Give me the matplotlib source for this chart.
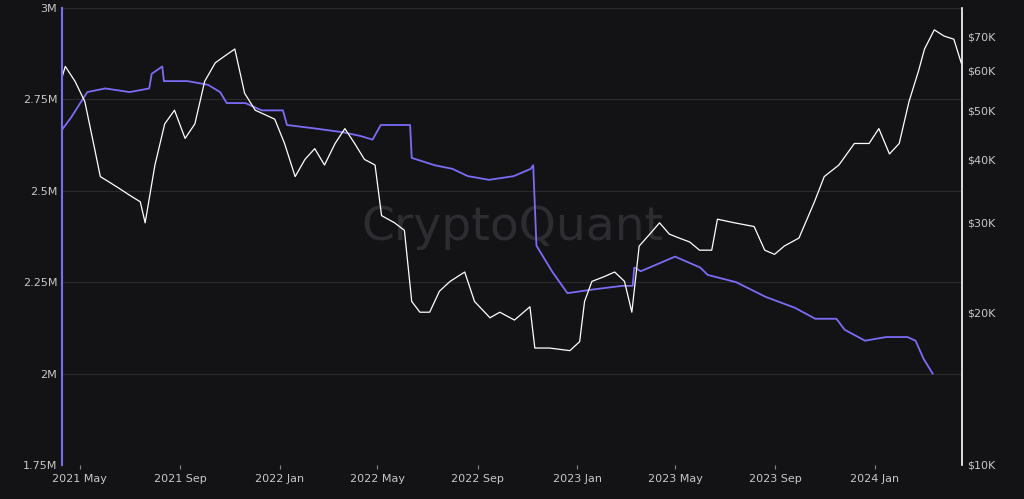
import matplotlib
matplotlib.use("Agg")
import matplotlib.pyplot as plt
import matplotlib.dates as mdates
import pandas as pd
import numpy as np

btc_start = "2021-04-09"
btc_day = [0,4,16,28,40,47,59,71,83,96,102,114,126,138,151,163,175,188,200,212,224,237,249,261,273,286,298,310,322,335,347,359,371,384,392,408,420,429,439,451,463,476,494,506,525,537,555,574,580,598,623,635,641,650,665,678,690,699,708,721,733,745,757,770,782,797,804,825,849,862,874,886,904,923,935,953,972,990,1002,1015,1027,1039,1051,1058,1070,1082,1094,1103]
btc_price = [58,61,57,52,42,37,36,35,34,33,30,39,47,50,44,47,57,62,64,66,54,50,49,48,43,37,40,42,39,43,46,43,40,39,31,30,29,21,20,20,22,23,24,21,19.5,20,19.3,20.5,17,17,16.8,17.5,21,23,23.5,24,23,20,27,28.5,30,28.5,28,27.5,26.5,26.5,30.5,30,29.5,26.5,26,27,28,33,37,39,43,43,46,41,43,52,60,66,72,70,69,62]

sup_dates = ["2021-04-10","2021-04-20","2021-05-10","2021-06-01","2021-07-01","2021-07-25","2021-07-28","2021-08-10","2021-08-12","2021-09-10","2021-10-05","2021-10-20","2021-10-28","2021-11-20","2021-12-10","2022-01-05","2022-01-10","2022-02-15","2022-03-20","2022-04-10","2022-04-25","2022-05-05","2022-06-10","2022-06-12","2022-07-10","2022-08-01","2022-08-20","2022-09-15","2022-10-15","2022-11-05","2022-11-08","2022-11-12","2022-12-01","2022-12-20","2023-01-20","2023-02-25","2023-03-10","2023-03-12","2023-03-20","2023-05-01","2023-06-01","2023-06-10","2023-07-15","2023-08-20","2023-09-25","2023-10-20","2023-11-15","2023-11-25","2023-12-20","2024-01-15","2024-02-10","2024-02-20","2024-03-01","2024-03-12"]
sup_vals = [2.67,2.70,2.77,2.78,2.77,2.78,2.82,2.84,2.80,2.80,2.79,2.77,2.74,2.74,2.72,2.72,2.68,2.67,2.66,2.65,2.64,2.68,2.68,2.59,2.57,2.56,2.54,2.53,2.54,2.56,2.57,2.35,2.28,2.22,2.23,2.24,2.24,2.29,2.28,2.32,2.29,2.27,2.25,2.21,2.18,2.15,2.15,2.12,2.09,2.10,2.10,2.09,2.04,2.00]

bg = "#131316"
fig = plt.figure(figsize=(10.24, 4.99), dpi=100, facecolor=bg)
ax = fig.add_axes([62/1024, 34/499, 900/1024, 457/499])
ax.set_facecolor(bg)
ax2 = ax.twinx()

sd = pd.to_datetime(sup_dates)
ax.plot(sd, np.array(sup_vals)*1e6, color="#7b6cf6", lw=1.3, zorder=3)
bd = pd.Timestamp(btc_start) + pd.to_timedelta(btc_day, unit="D")
ax2.plot(bd, np.array(btc_price)*1e3, color="white", lw=0.9)

ax.set_ylim(1.75e6, 3e6)
ax.set_yticks([1.75e6, 2e6, 2.25e6, 2.5e6, 2.75e6, 3e6])
ax.set_yticklabels(["1.75M","2M","2.25M","2.5M","2.75M","3M"])
ax2.set_yscale("log")
ax2.set_ylim(1e4, 79.5e3)
ticks = [1e4, 2e4, 3e4, 4e4, 5e4, 6e4, 7e4]
ax2.set_yticks(ticks)
ax2.set_yticklabels(["$10K","$20K","$30K","$40K","$50K","$60K","$70K"])
ax2.yaxis.set_minor_locator(matplotlib.ticker.NullLocator())
ax.set_xlim(pd.Timestamp("2021-04-09"), pd.Timestamp("2024-04-17"))
ax.xaxis.set_major_locator(mdates.MonthLocator(bymonth=[1,5,9]))
ax.xaxis.set_major_formatter(mdates.DateFormatter("%Y %b"))
ax.grid(axis="y", color="#2a2a2e", lw=0.8)
for a in (ax, ax2):
    a.tick_params(colors="#c8c8c8", labelsize=8, length=0)
    for s in a.spines.values():
        s.set_visible(False)
ax.tick_params(axis="x", length=3, color="#888")
ax2.spines["left"].set_visible(True); ax2.spines["left"].set_color("#7b6cf6"); ax2.spines["left"].set_linewidth(1.5)
ax2.spines["right"].set_visible(True); ax2.spines["right"].set_color("white"); ax2.spines["right"].set_linewidth(1.2)
ax.text(0.5, 0.52, "CryptoQuant", transform=ax.transAxes, ha="center", va="center",
        fontsize=34, color="#2c2c31", zorder=1)
fig.savefig("out.png", facecolor=bg)
